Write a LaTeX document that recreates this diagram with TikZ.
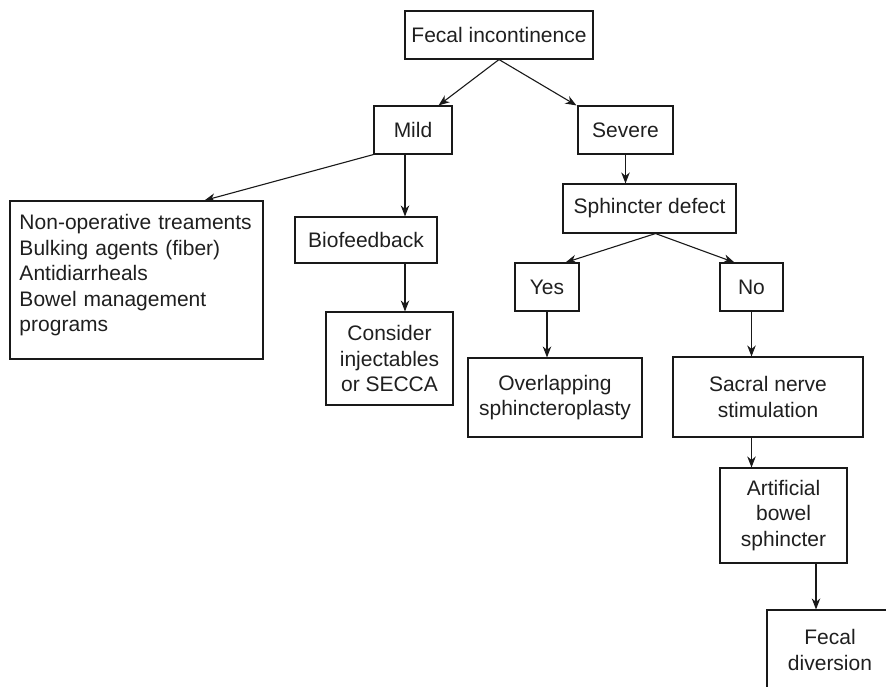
\documentclass[tikz,border=0pt]{standalone}
\usepackage{fontspec}
\setmainfont{Liberation Sans}
\usetikzlibrary{arrows.meta}
\begin{document}
\begin{tikzpicture}[x=1pt,y=-1pt,
  box/.style={draw=black!90, line width=1.1pt, inner sep=0pt, align=center,
    text=black!88, font=\fontsize{21}{25.5}\selectfont},
  arr/.style={draw=black!90, line width=1.1pt, -{Stealth[length=11pt,width=8.5pt,inset=3.5pt]}}]
\useasboundingbox (0,0) rectangle (886,687);
\clip (0,0) rectangle (886,687);

\node[box, minimum width=188pt, minimum height=48pt] (fi) at (499,35) {Fecal incontinence};
\node[box, minimum width=78pt, minimum height=48pt] (mild) at (413,130) {Mild};
\node[box, minimum width=95pt, minimum height=48pt] (severe) at (625.5,130) {Severe};
\node[box, minimum width=253pt, minimum height=158pt, text width=234pt, inner xsep=9.5pt,
      align=left, text depth=115.5pt] (nonop) at (136.5,280)
  {Non-operative treaments\\Bulking agents (fiber)\\Antidiarrheals\\Bowel management\\programs};
\node[box, minimum width=142pt, minimum height=46pt] (bio) at (366,240) {Biofeedback};
\node[box, minimum width=127pt, minimum height=93pt] (consider) at (389.5,358.5) {Consider\\injectables\\or SECCA};
\node[box, minimum width=173pt, minimum height=49pt] (sph) at (649.5,208.5) {Sphincter defect};
\node[box, minimum width=64pt, minimum height=48pt] (yes) at (547,287) {Yes};
\node[box, minimum width=63pt, minimum height=48pt] (no) at (751.5,287) {No};
\node[box, minimum width=174pt, minimum height=79pt] (overl) at (555,397.5) {Overlapping\\sphincteroplasty};
\node[box, minimum width=190pt, minimum height=80pt] (sacral) at (768,397) {Sacral nerve\\stimulation};
\node[box, minimum width=127pt, minimum height=95pt] (artif) at (783.5,515.5) {Artificial\\bowel\\sphincter};
\node[box, minimum width=126pt, minimum height=80pt] (fdiv) at (830,650) {Fecal\\diversion};

\draw[arr] (fi.south) -- ([xshift=-14pt]mild.north east);
\draw[arr] (fi.south) -- ([xshift=-1pt]severe.north west);
\draw[arr] (mild.south west) -- ([xshift=195pt]nonop.north west);
\draw[arr] ([xshift=-8pt]mild.south) -- ([xshift=-8pt]mild.south |- bio.north);
\draw[arr] ([xshift=39pt]bio.south) -- ([xshift=39pt]bio.south |- consider.north);
\draw[arr] (severe.south) -- (severe.south |- sph.north);
\draw[arr] ([xshift=6pt]sph.south) -- ([xshift=-14pt]yes.north east);
\draw[arr] ([xshift=6pt]sph.south) -- ([xshift=15pt]no.north west);
\draw[arr] (yes.south) -- (yes.south |- overl.north);
\draw[arr] (no.south) -- (no.south |- sacral.north);
\draw[arr] (no.south |- sacral.south) -- (no.south |- artif.north);
\draw[arr] ([xshift=32.5pt]artif.south) -- ([xshift=32.5pt]artif.south |- fdiv.north);
\end{tikzpicture}
\end{document}
